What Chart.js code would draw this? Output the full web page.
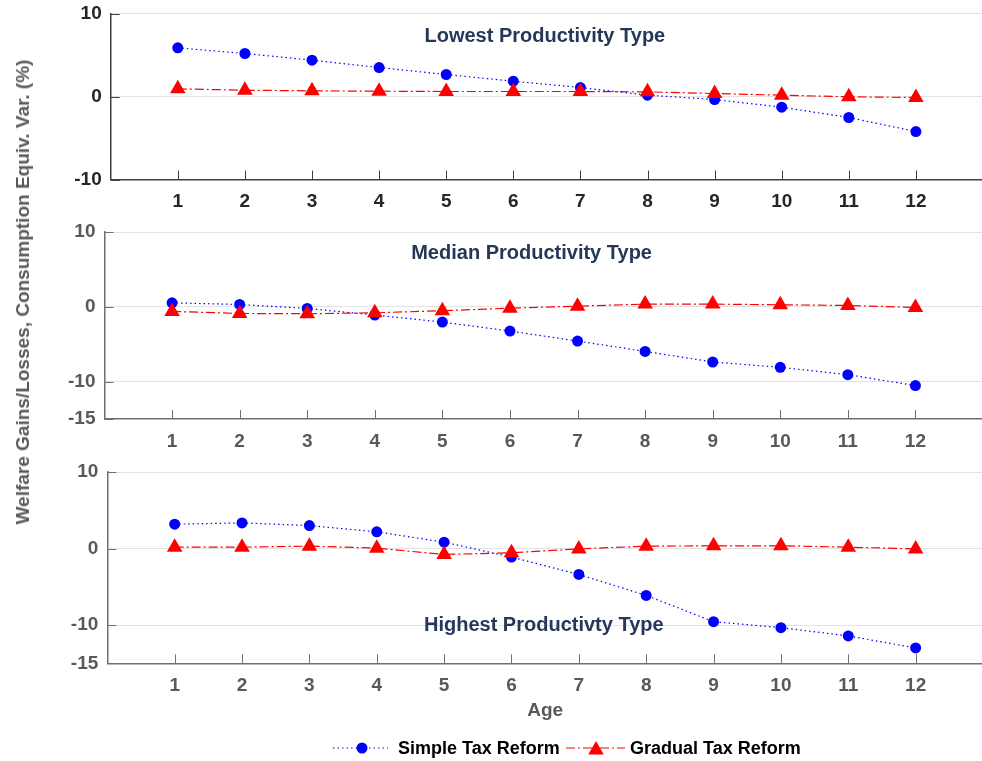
<!DOCTYPE html>
<html>
<head>
<meta charset="utf-8">
<script src="https://cdn.jsdelivr.net/npm/chart.js@4.4.0/dist/chart.umd.min.js"></script>
<style>
  html, body { margin: 0; padding: 0; background: #fff; overflow: hidden; }
  #wrap { position: relative; width: 992px; height: 761px; }
  canvas { position: absolute; left: 0; }
  #ylabel {
    position: absolute; left: 23px; top: 292px;
    transform: translate(-50%, -50%) rotate(-90deg);
    font: bold 19px "Liberation Sans", Arial, sans-serif;
    color: #595959; white-space: nowrap;
  }
</style>
</head>
<body>
<div id="wrap">
  <canvas id="c1" width="992" height="215" style="top:0px"></canvas>
  <canvas id="c2" width="992" height="239" style="top:215px"></canvas>
  <canvas id="c3" width="992" height="307" style="top:454px"></canvas>
  <div id="ylabel">Welfare Gains/Losses, Consumption Equiv. Var. (%)</div>
</div>
<script>
// data
const ages = [1, 2, 3, 4, 5, 6, 7, 8, 9, 10, 11, 12];
const seriesNames = ['Simple Tax Reform', 'Gradual Tax Reform'];
const panelTitles = ['Lowest Productivity Type', 'Median Productivity Type', 'Highest Productivty Type'];
const xTitle = 'Age';

const lowestSimple = [5.86, 5.18, 4.38, 3.49, 2.65, 1.84, 1.08, 0.16, -0.36, -1.29, -2.53, -4.22];
const lowestGradual = [0.92, 0.76, 0.68, 0.64, 0.6, 0.6, 0.6, 0.56, 0.36, 0.16, -0.04, -0.12];

const medianSimple = [0.53, 0.31, -0.22, -1.1, -2.04, -3.24, -4.58, -5.96, -7.38, -8.09, -9.07, -10.53];
const medianGradual = [-0.62, -0.89, -0.93, -0.8, -0.53, -0.18, 0.09, 0.36, 0.36, 0.27, 0.18, -0.09];

const highestSimple = [3.18, 3.35, 3.0, 2.18, 0.83, -1.12, -3.39, -6.13, -9.56, -10.34, -11.42, -12.99];
const highestGradual = [0.18, 0.18, 0.31, 0.05, -0.78, -0.56, -0.05, 0.31, 0.35, 0.35, 0.18, -0.05];

const yTicksTop = [-10, 0, 10];
const yTicksLower = [-15, -10, 0, 10];

const FONT = '"Liberation Sans", Arial, Helvetica, sans-serif';
const BLUE = '#0000ff';
const RED = '#ff0000';
const SIMPLE_DASH = [1.5, 3];
const GRADUAL_DASH = [9, 3, 2, 3];

function toPoints(vals) {
  return ages.map((a, i) => ({ x: a, y: vals[i] }));
}

function makeDatasets(simple, gradual) {
  return [
    {
      label: seriesNames[0], data: toPoints(simple),
      borderColor: BLUE, backgroundColor: BLUE, borderWidth: 1.2, borderDash: SIMPLE_DASH,
      pointStyle: 'circle', pointRadius: 5.5, pointBorderWidth: 0, order: 1
    },
    {
      label: seriesNames[1], data: toPoints(gradual),
      borderColor: RED, backgroundColor: RED, borderWidth: 1.2, borderDash: GRADUAL_DASH,
      pointStyle: 'triangle', pointRadius: 9, pointBorderWidth: 0, order: 0
    }
  ];
}

function drawTriangle(ctx, x, y, r) {
  ctx.beginPath();
  let rad = 0;
  for (let k = 0; k < 3; k++) {
    const px = x + Math.sin(rad) * r, py = y - Math.cos(rad) * r;
    if (k === 0) ctx.moveTo(px, py); else ctx.lineTo(px, py);
    rad += 2 * Math.PI / 3;
  }
  ctx.closePath();
  ctx.fill();
}

// inner tick marks, panel title and (bottom panel) legend
const panelDecor = {
  id: 'panelDecor',
  afterDatasetsDraw(chart, args, opts) {
    const { ctx, chartArea: a, scales: { x, y } } = chart;
    ctx.save();
    ctx.strokeStyle = opts.tickColor;
    ctx.lineWidth = 1;
    ctx.beginPath();
    x.ticks.forEach(t => {
      const px = Math.round(x.getPixelForValue(t.value)) + 0.5;
      ctx.moveTo(px, a.bottom);
      ctx.lineTo(px, a.bottom - 9);
    });
    y.ticks.forEach(t => {
      const py = Math.round(y.getPixelForValue(t.value)) + 0.5;
      ctx.moveTo(a.left, py);
      ctx.lineTo(a.left + 9, py);
    });
    ctx.stroke();

    ctx.fillStyle = '#263859';
    ctx.font = 'bold 20px ' + FONT;
    ctx.textAlign = 'center';
    ctx.textBaseline = 'middle';
    ctx.fillText(opts.title, x.getPixelForValue(opts.at[0]), y.getPixelForValue(opts.at[1]));
    ctx.restore();
  },
  afterDraw(chart, args, opts) {
    if (!opts.legend) return;
    const ctx = chart.ctx;
    const ly = opts.legend.y;
    ctx.save();
    ctx.lineWidth = 1.2;
    // simple
    ctx.strokeStyle = BLUE;
    ctx.setLineDash(SIMPLE_DASH);
    ctx.beginPath(); ctx.moveTo(333, ly); ctx.lineTo(388, ly); ctx.stroke();
    ctx.fillStyle = BLUE;
    ctx.beginPath(); ctx.arc(362, ly, 5.5, 0, 2 * Math.PI); ctx.fill();
    // gradual
    ctx.strokeStyle = RED;
    ctx.setLineDash(GRADUAL_DASH);
    ctx.beginPath(); ctx.moveTo(566, ly); ctx.lineTo(625, ly); ctx.stroke();
    ctx.fillStyle = RED;
    drawTriangle(ctx, 596, ly + 2, 9);
    ctx.setLineDash([]);

    ctx.fillStyle = '#000';
    ctx.font = 'bold 18px ' + FONT;
    ctx.textAlign = 'left';
    ctx.textBaseline = 'middle';
    ctx.fillText(seriesNames[0], 398, ly + 1);
    ctx.fillText(seriesNames[1], 630, ly + 1);
    ctx.restore();
  }
};

function makeChart(id, simple, gradual, p) {
  const textColor = p.dark ? '#262626' : '#595959';
  const axisColor = p.dark ? '#404040' : '#707070';
  return new Chart(document.getElementById(id), {
    type: 'line',
    data: { datasets: makeDatasets(simple, gradual) },
    plugins: [panelDecor],
    options: {
      responsive: false,
      animation: false,
      events: [],
      layout: { padding: { top: p.padTop, right: p.padRight, left: 0, bottom: 0 } },
      plugins: {
        legend: { display: false },
        tooltip: { enabled: false },
        panelDecor: { title: p.title, at: p.titleAt, tickColor: axisColor, legend: p.legend || null }
      },
      scales: {
        x: {
          type: 'linear', min: 0, max: 13,
          afterBuildTicks: s => { s.ticks = ages.map(v => ({ value: v })); },
          afterFit: s => { s.height = p.xHeight; s.paddingLeft = 0; s.paddingRight = 0; },
          grid: { display: true, drawOnChartArea: false, drawTicks: false },
          border: { display: true, color: axisColor, width: 1.5 },
          ticks: {
            autoSkip: false, maxRotation: 0, padding: 11, color: textColor,
            font: { family: FONT, size: 19, weight: 'bold' }
          },
          title: p.xTitle ? {
            display: true, text: p.xTitle, color: '#595959',
            font: { family: FONT, size: 19, weight: 'bold' },
            padding: { top: 0, bottom: 39 }
          } : { display: false }
        },
        y: {
          type: 'linear', min: p.yTicks[0], max: p.yTicks[p.yTicks.length - 1],
          afterBuildTicks: s => { s.ticks = p.yTicks.map(v => ({ value: v })); },
          afterFit: s => { s.width = p.yWidth; s.paddingTop = 0; s.paddingBottom = 0; },
          grid: {
            drawTicks: false, lineWidth: 1,
            color: c => (c.tick && c.tick.value === p.yTicks[0]) ? 'rgba(0,0,0,0)' : '#e3e3e3'
          },
          border: { display: true, color: axisColor, width: 1.5 },
          ticks: {
            padding: 9, color: textColor,
            font: { family: FONT, size: 19, weight: 'bold' }
          }
        }
      }
    }
  });
}

makeChart('c1', lowestSimple, lowestGradual, {
  dark: true, title: panelTitles[0], titleAt: [6.47, 7.27], yTicks: yTicksTop,
  padTop: 13.5, padRight: 2.5, xHeight: 35.5, yWidth: 110.7
});
makeChart('c2', medianSimple, medianGradual, {
  dark: false, title: panelTitles[1], titleAt: [6.32, 7.18], yTicks: yTicksLower,
  padTop: 17, padRight: 6.7, xHeight: 35, yWidth: 104.5
});
makeChart('c3', highestSimple, highestGradual, {
  dark: false, title: panelTitles[2], titleAt: [6.48, -10.08], yTicks: yTicksLower,
  padTop: 18, padRight: 5.1, xHeight: 97.7, yWidth: 107.3, xTitle: xTitle,
  legend: { y: 294 }
});
</script>
</body>
</html>
